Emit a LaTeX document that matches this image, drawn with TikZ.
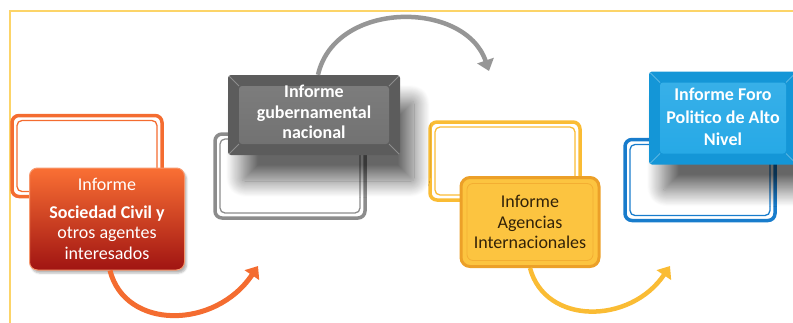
\documentclass[tikz,border=0pt]{standalone}
\usepackage{fontspec}
\setmainfont{Carlito}
\usetikzlibrary{arrows.meta,positioning,shadows.blur}

\definecolor{frameyellow}{RGB}{252,212,104}
\definecolor{scline}{RGB}{244,108,48}
\definecolor{sctop}{RGB}{250,112,52}
\definecolor{scmid}{RGB}{232,48,30}
\definecolor{scbot}{RGB}{160,20,18}
\definecolor{gvline}{RGB}{140,140,140}
\definecolor{gvdark}{RGB}{92,92,92}
\definecolor{gvface}{RGB}{112,112,112}
\definecolor{gvarrow}{RGB}{150,150,150}
\definecolor{ailine}{RGB}{250,188,52}
\definecolor{aifill}{RGB}{252,196,64}
\definecolor{aiedge}{RGB}{236,160,40}
\definecolor{aitext}{RGB}{50,34,8}
\definecolor{fpline}{RGB}{24,124,204}
\definecolor{fpdark}{RGB}{20,150,215}
\definecolor{fpface}{RGB}{36,168,230}

\tikzset{
  backframe/.style={draw=#1, line width=3.5pt, rounded corners=7pt,
    minimum width=150pt, minimum height=81pt,
    path picture={\draw[#1, line width=1.3pt, rounded corners=5pt]
      ([shift={(5pt,-5pt)}]path picture bounding box.north west) rectangle
      ([shift={(-5pt,5pt)}]path picture bounding box.south east);}},
  flow/.style={draw=#1, line width=4.5pt, -{Triangle[length=11pt,width=17pt]}},
  bevel/.style 2 args={fill=#1, rounded corners=3pt, inner sep=0pt,
    path picture={
      \shade[top color=#2!90!white, bottom color=#2]
        ([shift={(11pt,-11pt)}]path picture bounding box.north west) rectangle
        ([shift={(-11pt,11pt)}]path picture bounding box.south east);
      \draw[white, opacity=.3, line width=.8pt]
        (path picture bounding box.north west) -- ++(11pt,-11pt)
        (path picture bounding box.north east) -- ++(-11pt,-11pt)
        (path picture bounding box.south west) -- ++(11pt,11pt)
        (path picture bounding box.south east) -- ++(-11pt,11pt);
    }},
  bigshadow/.style={blur shadow={shadow xshift=14pt, shadow yshift=-26pt,
    shadow opacity=60, shadow blur radius=16pt, shadow blur steps=30}},
  label/.style={align=center, font=\fontsize{18}{20.5}\selectfont}
}

\begin{document}
\begin{tikzpicture}[x=1pt,y=-1pt]
\useasboundingbox (0,0) rectangle (793,322);
\clip (0,0) rectangle (793,322);

% frame
\draw[frameyellow, line width=2pt] (10,11) rectangle (830,350);

% back frames
\node[backframe=scline] (sc-back) at (87,156) {};
\node[backframe=gvline, minimum height=84pt] (gv-back) at (290,176) {};
\node[backframe=ailine, minimum height=78pt] (ai-back) at (505,161) {};
\node[backframe=fpline] (fp-back) at (700,180) {};

% sociedad civil
\node[top color=sctop, middle color=scmid, bottom color=scbot, draw=scline!70!white,
  line width=1pt, rounded corners=8pt, minimum width=155pt, minimum height=102pt,
  blur shadow={shadow xshift=2pt, shadow yshift=-3pt, shadow opacity=30}] (sc) at (107,219) {};
\node[label, text=white] at (sc.center)
  {Informe\\[7pt]\textbf{Sociedad Civil y}\\otros agentes\\interesados};

% gubernamental
\node[bevel={gvdark}{gvface}, minimum width=172pt, minimum height=80pt, bigshadow] (gv) at (314,115) {};
\node[label, text=white, font=\bfseries\fontsize{18}{20.5}\selectfont] at ([yshift=3pt]gv.center)
  {Informe\\gubernamental\\nacional};

% agencias
\node[fill=aifill, draw=aiedge, line width=3pt, rounded corners=9pt,
  minimum width=138pt, minimum height=89pt,
  path picture={\draw[aiedge!60!aifill, line width=.8pt, rounded corners=6pt]
    ([shift={(6pt,-6pt)}]path picture bounding box.north west) rectangle
    ([shift={(-6pt,6pt)}]path picture bounding box.south east);}] (ai) at (530,222) {};
\node[label, text=aitext] at (ai.center) {Informe\\Agencias\\Internacionales};

% foro politico
\node[bevel={fpdark}{fpface}, minimum width=148pt, minimum height=93pt, bigshadow] (fp) at (723,118) {};
\node[label, text=white, font=\bfseries\fontsize{18}{22.5}\selectfont] at ([yshift=1pt]fp.center)
  {Informe Foro\\Politico de Alto\\Nivel};

% arrows
\coordinate (sc-to) at (258,266);
\coordinate (gv-to) at (489,71);
\coordinate (ai-to) at (670,266);
\draw[flow=scline, line width=5pt] ([xshift=3pt]sc.south) .. controls (125,330) and (215,330) .. (sc-to);
\draw[flow=gvarrow] ([xshift=4pt]gv.north) .. controls (335,0) and (465,0) .. (gv-to);
\draw[flow=ailine] (ai.south) .. controls (545,325) and (630,325) .. (ai-to);
\end{tikzpicture}
\end{document}
